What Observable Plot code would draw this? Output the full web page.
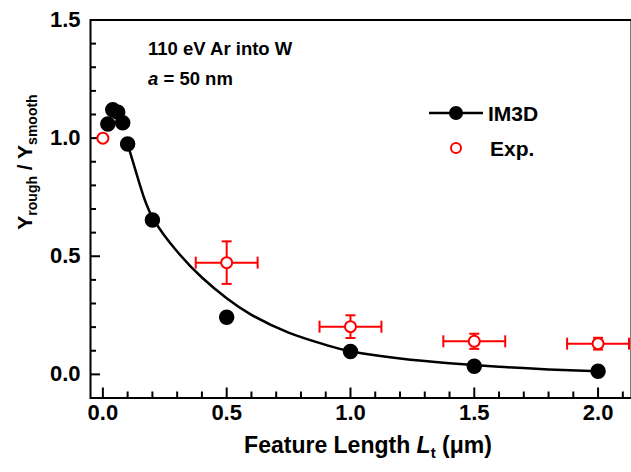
<!DOCTYPE html>
<html><head><meta charset="utf-8">
<script src="https://cdn.jsdelivr.net/npm/d3@7"></script>
<script src="https://cdn.jsdelivr.net/npm/@observablehq/plot@0.6"></script>
<style>
body{margin:0;background:#fff}
</style>
</head><body><div id="chart"></div>
<script>
// IM3D simulation points
const im3dX = [0.02, 0.04, 0.06, 0.08, 0.10, 0.20, 0.50, 1.00, 1.50, 2.00];
const im3dY = [1.06, 1.12, 1.11, 1.065, 0.975, 0.653, 0.242, 0.097, 0.034, 0.013];
// fitted curve
const fitX = [0.10, 0.15, 0.20, 0.30, 0.40, 0.50, 0.60, 0.75, 0.90, 1.00, 1.20, 1.40, 1.60, 1.80, 2.00];
const fitY = [0.975, 0.80, 0.665, 0.52, 0.41, 0.322, 0.252, 0.177, 0.125, 0.098, 0.067, 0.047, 0.032, 0.021, 0.013];
// experiment
const expX = [0.0, 0.5, 1.0, 1.5, 2.0];
const expY = [1.0, 0.473, 0.202, 0.14, 0.13];
const expXErr = [0, 0.125, 0.125, 0.125, 0.125];
const expYErr = [0, 0.09, 0.048, 0.032, 0.025];
// ticks
const xMajor = [0.0, 0.5, 1.0, 1.5, 2.0];
const xMinor = [0.1, 0.2, 0.3, 0.4, 0.6, 0.7, 0.8, 0.9, 1.1, 1.2, 1.3, 1.4, 1.6, 1.7, 1.8, 1.9, 2.1];
const yMajor = [0.0, 0.5, 1.0, 1.5];
const yMinor = [0.1, 0.2, 0.3, 0.4, 0.6, 0.7, 0.8, 0.9, 1.1, 1.2, 1.3, 1.4];

const im3d = im3dX.map((x, i) => ({x, y: im3dY[i]}));
const fit = fitX.map((x, i) => ({x, y: fitY[i]}));
const exp = expX.map((x, i) => ({x, y: expY[i], ex: expXErr[i], ey: expYErr[i]}));
const expErr = exp.filter(d => d.ex > 0 || d.ey > 0);

const RED = "#ff0000";
const W = 631, H = 472, ML = 90, MR = 0, MT = 19.5, MB = 74.5;
const FW = W - ML - MR, FH = H - MT - MB;
const vline = {draw(ctx, size) { const h = Math.sqrt(size / Math.PI); ctx.moveTo(0, -h); ctx.lineTo(0, h); }};
const hline = {draw(ctx, size) { const h = Math.sqrt(size / Math.PI); ctx.moveTo(-h, 0); ctx.lineTo(h, 0); }};

const chart = Plot.plot({
  width: W,
  height: H,
  marginLeft: ML,
  marginRight: MR,
  marginTop: MT,
  marginBottom: MB,
  style: {fontFamily: "Liberation Sans, Arial, sans-serif", background: "white"},
  x: {domain: [-0.05, 2.135], label: null},
  y: {domain: [-0.1, 1.5], label: null},
  marks: [
    Plot.frame({stroke: "black", strokeWidth: 2}),
    // inward ticks
    Plot.tickX(xMajor, {x: d => d, insetTop: FH - 10, stroke: "black", strokeWidth: 2}),
    Plot.tickX(xMinor, {x: d => d, insetTop: FH - 6, stroke: "black", strokeWidth: 2}),
    Plot.tickY(yMajor, {y: d => d, insetRight: FW - 10, stroke: "black", strokeWidth: 2}),
    Plot.tickY(yMinor, {y: d => d, insetRight: FW - 6, stroke: "black", strokeWidth: 2}),
    Plot.axisX({ticks: xMajor, tickSize: 0, tickPadding: 6, tickFormat: d3.format(".1f"), fontSize: 22, fontWeight: "bold", fill: "black", label: null}),
    Plot.axisY({ticks: yMajor, tickSize: 0, tickPadding: 10, tickFormat: d3.format(".1f"), fontSize: 22, fontWeight: "bold", fill: "black", label: null}),
    // fit curve
    Plot.line(fit, {x: "x", y: "y", curve: "natural", stroke: "black", strokeWidth: 2.5}),
    // error bars
    Plot.ruleY(expErr, {y: "y", x1: d => d.x - d.ex, x2: d => d.x + d.ex, stroke: RED, strokeWidth: 2}),
    Plot.ruleX(expErr, {x: "x", y1: d => d.y - d.ey, y2: d => d.y + d.ey, stroke: RED, strokeWidth: 2}),
    Plot.dot(expErr, {x: d => d.x - d.ex, y: "y", symbol: vline, r: 6, stroke: RED, strokeWidth: 2}),
    Plot.dot(expErr, {x: d => d.x + d.ex, y: "y", symbol: vline, r: 6, stroke: RED, strokeWidth: 2}),
    Plot.dot(expErr, {x: "x", y: d => d.y - d.ey, symbol: hline, r: 5, stroke: RED, strokeWidth: 2}),
    Plot.dot(expErr, {x: "x", y: d => d.y + d.ey, symbol: hline, r: 5, stroke: RED, strokeWidth: 2}),
    // points
    Plot.dot(im3d, {x: "x", y: "y", r: 7, fill: "black", stroke: "black"}),
    Plot.dot(exp, {x: "x", y: "y", r: 5.5, fill: "white", stroke: RED, strokeWidth: 2})
  ]
});
document.getElementById("chart").appendChild(chart);

const svg = d3.select(chart);
// annotations, legend and axis titles
const g = svg.append("g")
  .attr("font-family", "Liberation Sans, Arial, sans-serif")
  .attr("font-weight", "bold").attr("fill", "black").attr("text-anchor", "start");

g.append("text").attr("x", 148).attr("y", 55).attr("font-size", 18.5).text("110 eV Ar into W");
const t2 = g.append("text").attr("x", 148).attr("y", 85).attr("font-size", 18.5);
t2.append("tspan").attr("font-style", "italic").text("a");
t2.append("tspan").text(" = 50 nm");

// legend
g.append("line").attr("x1", 429).attr("x2", 483).attr("y1", 113).attr("y2", 113).attr("stroke", "black").attr("stroke-width", 2.5);
g.append("circle").attr("cx", 456).attr("cy", 113).attr("r", 7).attr("fill", "black");
g.append("text").attr("x", 488).attr("y", 121).attr("font-size", 21).text("IM3D");
g.append("circle").attr("cx", 456).attr("cy", 148).attr("r", 5).attr("fill", "white").attr("stroke", RED).attr("stroke-width", 2);
g.append("text").attr("x", 490).attr("y", 156).attr("font-size", 21).text("Exp.");

// x title
const xt = g.append("text").attr("x", 368).attr("y", 453).attr("text-anchor", "middle").attr("font-size", 23);
xt.append("tspan").text("Feature Length ");
xt.append("tspan").attr("font-style", "italic").text("L");
xt.append("tspan").attr("font-size", 15).attr("dy", 5).text("t");
xt.append("tspan").attr("dy", -5).text(" (\u03bcm)");

// y title
const yt = g.append("text").attr("transform", "translate(32,162) rotate(-90)").attr("text-anchor", "middle").attr("font-size", 21);
yt.append("tspan").text("Y");
yt.append("tspan").attr("font-size", 14).attr("dy", 5).text("rough");
yt.append("tspan").attr("dy", -5).text(" / Y");
yt.append("tspan").attr("font-size", 14).attr("dy", 5).text("smooth");
</script>
</body></html>
